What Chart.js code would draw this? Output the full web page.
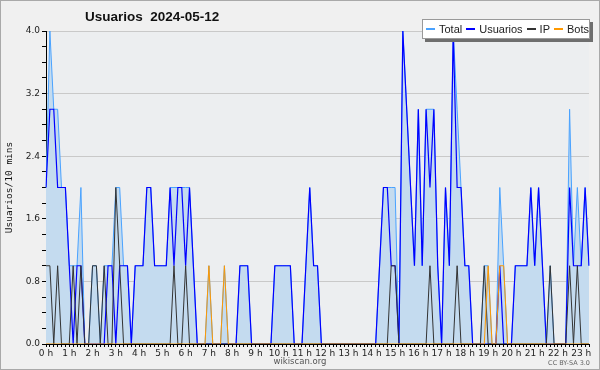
<!DOCTYPE html>
<html>
<head>
<meta charset="utf-8">
<script src="https://cdn.jsdelivr.net/npm/chart.js@4.4.1/dist/chart.umd.min.js"></script>
<style>
html, body { margin: 0; padding: 0; }
body { width: 600px; height: 370px; background: #f0f0f0; position: relative; overflow: hidden; font-family: "Liberation Sans", Arial, sans-serif; }
#frame { position: absolute; left: 0; top: 0; width: 598px; height: 368px; border: 1px solid #a9a9a9; pointer-events: none; }
#myChart { position: absolute; left: 0; top: 0; }
#title { position: absolute; left: 85px; top: 9px; font-size: 13.5px; font-weight: bold; color: #111; white-space: pre; }
#legend { position: absolute; left: 422px; top: 19px; width: 166px; height: 18px; background: #fff; border: 1px solid #999; box-shadow: 3px 3px 0 #6e6e6e; display: flex; align-items: center; font-size: 11px; color: #222; }
#legend .sw { display: block; width: 12px; height: 2px; margin: 8px 4px 0 4px; align-self: flex-start; }
#legend .sw:first-child { margin-left: 3px; }
#credit { position: absolute; left: 0; width: 600px; top: 356px; text-align: center; font-family: "DejaVu Sans", sans-serif; font-size: 8.5px; color: #555; }
#lic { position: absolute; right: 10px; top: 359px; font-family: "DejaVu Sans", sans-serif; font-size: 6.5px; color: #666; }
</style>
</head>
<body>
<canvas id="myChart" width="600" height="370"></canvas>
<div id="title">Usuarios  2024-05-12</div>
<div id="legend">
  <span class="sw" style="background:#49a2ff"></span><span>Total</span>
  <span class="sw" style="background:#0000ff"></span><span>Usuarios</span>
  <span class="sw" style="background:#333"></span><span>IP</span>
  <span class="sw" style="background:#ff9900"></span><span>Bots</span>
</div>
<div id="credit">wikiscan.org</div>
<div id="lic">CC BY-SA 3.0</div>
<div id="frame"></div>
<script>
// one value per 10 minutes, 00:00 .. 23:20
var total = [2,4,3,3,2,2,1,1,1,2,0,0,1,1,0,1,1,1,2,2,1,1,0,
    1,1,1,2,2,1,1,1,1,2,2,2,2,2,2,1,
    0,0,0,1,0,0,0,1,0,0,
    0,1,1,1,0,0,0,0,0,
    0,1,1,1,1,1,0,0,0,
    1,2,1,1,
    0,0,0,0,0,0,0,0,0,0,0,0,0,0,0,
    1,2,2,2,2,0,
    4,3,2,1,3,1,3,3,3,1,0,
    2,1,4,3,2,1,1,0,
    0,0,1,1,0,0,
    2,1,0,0,
    1,1,1,1,2,1,2,1,0,
    1,0,0,0,0,
    3,1,2,1,2,1];
var usuarios = [2,3,3,2,2,2,1,0,1,1,0,0,0,0,0,0,1,1,0,1,1,1,0,
    1,1,1,2,2,1,1,1,1,2,1,2,2,1,2,1,
    0,0,0,0,0,0,0,0,0,0,
    0,1,1,1,0,0,0,0,0,
    0,1,1,1,1,1,0,0,0,
    1,2,1,1,
    0,0,0,0,0,0,0,0,0,0,0,0,0,0,0,
    1,2,2,1,1,0,
    4,3,2,1,3,1,3,2,3,1,0,
    2,1,4,2,2,1,1,0,
    0,0,0,0,0,0,
    1,0,0,0,
    1,1,1,1,2,1,2,1,0,
    0,0,0,0,0,
    2,1,1,1,2,1];
var ip = [1,1,0,1,0,0,0,1,0,1,0,0,1,1,0,1,0,0,2,1,0,0,0,
    0,0,0,0,0,0,0,0,0,0,1,0,0,1,0,0,
    0,0,0,0,0,0,0,0,0,0,
    0,0,0,0,0,0,0,0,0,
    0,0,0,0,0,0,0,0,0,
    0,0,0,0,
    0,0,0,0,0,0,0,0,0,0,0,0,0,0,0,
    0,0,0,1,1,0,
    0,0,0,0,0,0,0,1,0,0,0,
    0,0,0,1,0,0,0,0,
    0,0,1,0,0,0,
    0,0,0,0,
    0,0,0,0,0,0,0,0,0,
    1,0,0,0,0,
    1,0,1,0,0,0];
var bots = [0,0,0,0,0,0,0,0,0,0,0,0,0,0,0,0,0,0,0,0,0,0,0,
    0,0,0,0,0,0,0,0,0,0,0,0,0,0,0,0,
    0,0,0,1,0,0,0,1,0,0,
    0,0,0,0,0,0,0,0,0,
    0,0,0,0,0,0,0,0,0,
    0,0,0,0,
    0,0,0,0,0,0,0,0,0,0,0,0,0,0,0,
    0,0,0,0,0,0,
    0,0,0,0,0,0,0,0,0,0,0,
    0,0,0,0,0,0,0,0,
    0,0,0,1,0,0,
    1,1,0,0,
    0,0,0,0,0,0,0,0,0,
    0,0,0,0,0,
    0,0,0,0,0,0];
var hourLabels = ['0 h','1 h','2 h','3 h','4 h','5 h','6 h','7 h','8 h','9 h','10 h','11 h',
    '12 h','13 h','14 h','15 h','16 h','17 h','18 h','19 h','20 h','21 h','22 h','23 h'];
var yTicks = [0, 0.8, 1.6, 2.4, 3.2, 4.0];

var slots = [];
for (var i = 0; i < usuarios.length; i++) {
    var h = Math.floor(i / 6), m = (i % 6) * 10;
    slots.push(h + ':' + (m < 10 ? '0' : '') + m);
}

function isMajor(v) {
    return yTicks.some(function (t) { return Math.abs(t - v) < 1e-6; });
}

var plotBg = {
    id: 'plotBg',
    beforeDraw: function (chart) {
        var a = chart.chartArea, c = chart.ctx;
        c.save();
        c.fillStyle = '#eceef0';
        c.fillRect(a.left, a.top, a.right - a.left, a.bottom - a.top);
        c.restore();
    }
};

var ctx = document.getElementById('myChart').getContext('2d');
var myChart = new Chart(ctx, {
    type: 'line',
    data: {
        labels: slots,
        datasets: [{
            label: 'Total',
            data: total,
            borderColor: '#49a2ff',
            backgroundColor: '#c4dbef',
            borderWidth: 1,
            fill: 'origin',
            order: 4
        }, {
            label: 'Usuarios',
            data: usuarios,
            borderColor: '#0000ff',
            borderWidth: 1.2,
            fill: false,
            order: 3
        }, {
            label: 'IP',
            data: ip,
            borderColor: '#333333',
            borderWidth: 1,
            fill: false,
            order: 2
        }, {
            label: 'Bots',
            data: bots,
            borderColor: '#ff9900',
            borderWidth: 1,
            fill: false,
            order: 1
        }]
    },
    options: {
        responsive: false,
        animation: false,
        devicePixelRatio: 1,
        elements: {
            point: { radius: 0, hoverRadius: 0 },
            line: { tension: 0 }
        },
        layout: {
            padding: { top: 31, right: 11, left: 0, bottom: 0 }
        },
        plugins: {
            legend: { display: false },
            title: { display: false },
            tooltip: { enabled: false }
        },
        scales: {
            x: {
                afterFit: function (s) { s.height = 26; },
                border: { color: '#000', width: 1 },
                grid: {
                    drawOnChartArea: false,
                    drawTicks: true,
                    tickLength: 3,
                    tickColor: '#000'
                },
                ticks: {
                    autoSkip: false,
                    maxRotation: 0,
                    padding: 1,
                    color: '#222',
                    font: { family: 'DejaVu Sans', size: 9 },
                    callback: function (v, idx) {
                        return idx % 6 === 0 ? hourLabels[idx / 6] : '';
                    }
                }
            },
            y: {
                min: 0,
                max: 4,
                afterFit: function (s) { s.width = 46; },
                border: { color: '#000', width: 1 },
                grid: {
                    color: function (c) {
                        return (c.tick && c.tick.value > 0 && isMajor(c.tick.value)) ? '#c9c9c9' : 'rgba(0,0,0,0)';
                    },
                    tickColor: '#000',
                    tickLength: 4
                },
                ticks: {
                    stepSize: 0.2,
                    autoSkip: false,
                    padding: 2,
                    color: '#222',
                    font: { family: 'DejaVu Sans', size: 9 },
                    callback: function (v) {
                        return isMajor(v) ? Number(v).toFixed(1) : '';
                    }
                },
                title: {
                    display: true,
                    text: 'Usuarios/10 mins',
                    color: '#111',
                    font: { family: 'DejaVu Sans Mono', size: 9.5 },
                    padding: { top: 4, bottom: 0 }
                }
            }
        }
    },
    plugins: [plotBg]
});
</script>
</body>
</html>
